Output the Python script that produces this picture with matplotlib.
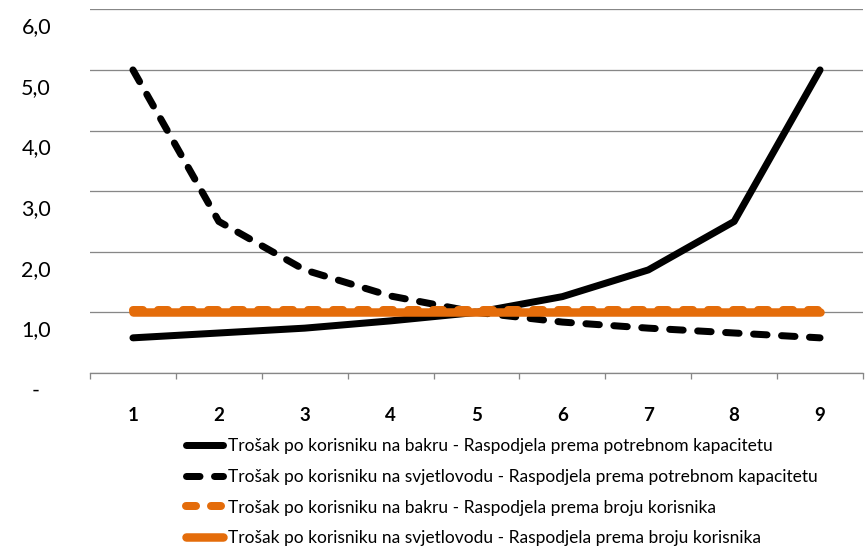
import matplotlib
matplotlib.use('Agg')
import matplotlib.pyplot as plt
import matplotlib.transforms as mtransforms
from matplotlib.ticker import FixedLocator

plt.rcParams['font.family'] = ['Lato', 'DejaVu Sans']
plt.rcParams['lines.scale_dashes'] = False

# ---- data ----
categories = [1, 2, 3, 4, 5, 6, 7, 8, 9]
copper_by_capacity = [0.58, 0.66, 0.74, 0.86, 1.0, 1.26, 1.70, 2.50, 5.00]
fiber_by_capacity = [5.00, 2.50, 1.70, 1.27, 1.0, 0.84, 0.74, 0.66, 0.58]
copper_by_users = [1.04, 1.04, 1.04, 1.04, 1.04, 1.04, 1.04, 1.04, 1.04]
fiber_by_users = [1.0, 1.0, 1.0, 1.0, 1.0, 1.0, 1.0, 1.0, 1.0]
y_ticks = [0, 1, 2, 3, 4, 5, 6]
y_tick_labels = ['-', '1,0', '2,0', '3,0', '4,0', '5,0', '6,0']
labels = [
    'Trošak po korisniku na bakru - Raspodjela prema potrebnom kapacitetu',
    'Trošak po korisniku na svjetlovodu - Raspodjela prema potrebnom kapacitetu',
    'Trošak po korisniku na bakru - Raspodjela prema broju korisnika',
    'Trošak po korisniku na svjetlovodu - Raspodjela prema broju korisnika',
]

ORANGE = '#E46C0A'
GRID = '#878787'

W, H = 868, 546
fig = plt.figure(figsize=(W / 100, H / 100), dpi=100)
ax = fig.add_axes([90 / W, 1 - 373 / H, 773 / W, (373 - 9.3) / H])

px = 72 / 100  # points per pixel

l1, = ax.plot(categories, copper_by_capacity, color='black', lw=7 * px,
              solid_capstyle='round', solid_joinstyle='round', zorder=3, label=labels[0])
l2, = ax.plot(categories, fiber_by_capacity, color='black', lw=7 * px,
              dashes=(13.5 * px, 14.5 * px), dash_capstyle='round', dash_joinstyle='round',
              zorder=3, label=labels[1])
l3, = ax.plot(categories, copper_by_users, color=ORANGE, lw=8 * px,
              dashes=(10 * px, 15 * px), dash_capstyle='round', zorder=4, label=labels[2])
l4, = ax.plot(categories, fiber_by_users, color=ORANGE, lw=8.5 * px,
              solid_capstyle='round', zorder=5, label=labels[3])

ax.set_xlim(0.5, 9.5)
ax.set_ylim(0, 6)

for s in ['top', 'right', 'left']:
    ax.spines[s].set_visible(False)
ax.spines['bottom'].set_color(GRID)
ax.spines['bottom'].set_linewidth(1.3 * px)

ax.set_yticks(y_ticks)
ax.set_yticklabels(y_tick_labels)
ax.yaxis.grid(True, color=GRID, lw=1.3 * px)
ax.set_axisbelow(True)
ax.tick_params(axis='y', length=0, pad=39 * px, labelsize=15.5, labelcolor='black')

ax.set_xticks(categories)
ax.set_xticklabels([str(c) for c in categories], fontweight='bold')
ax.xaxis.set_minor_locator(FixedLocator([c - 0.5 for c in categories] + [categories[-1] + 0.5]))
ax.tick_params(axis='x', which='major', length=0, pad=34 * px, labelsize=13.5)
ax.tick_params(axis='x', which='minor', length=6 * px, width=1.3 * px, color=GRID, direction='out')

# Shift y tick labels down (as in the reference)
off = mtransforms.ScaledTranslation(0, -16 / 100, fig.dpi_scale_trans)
for i, lab in enumerate(ax.get_yticklabels()):
    if i == 0:
        lab.set_transform(lab.get_transform() + off +
                          mtransforms.ScaledTranslation(-11 / 100, 0, fig.dpi_scale_trans))
    else:
        lab.set_transform(lab.get_transform() + off)

fs = 12.5
fpx = fs / px
leg = fig.legend(handles=[l1, l2, l3, l4], loc='upper left',
                 bbox_to_anchor=(186 / W, 1 - 438 / H), frameon=False,
                 fontsize=fs, handlelength=37 / fpx, handletextpad=5 / fpx,
                 labelspacing=0.85, borderpad=0, borderaxespad=0)

fig.savefig('out.png', dpi=100)
